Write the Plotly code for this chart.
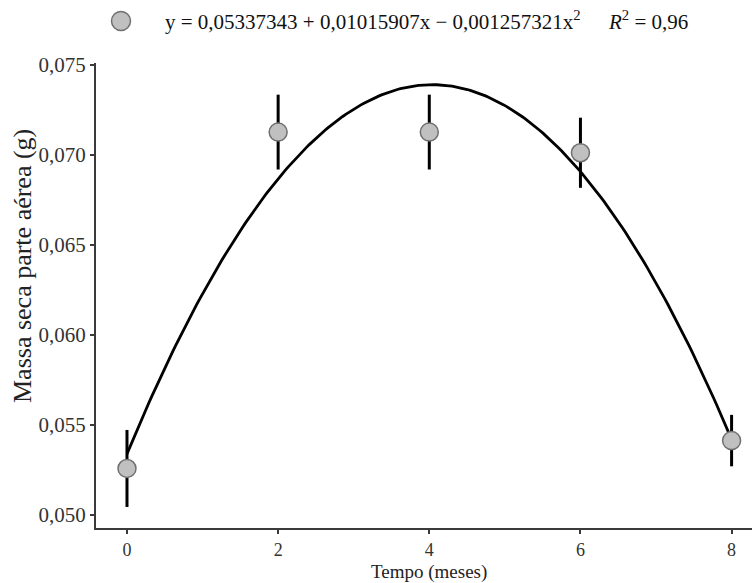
import numpy as np
import plotly.graph_objects as go

# Data
tempo = [0, 2, 4, 6, 8]
massa = [0.05256, 0.07126, 0.07126, 0.07011, 0.05411]
erro = [0.00214, 0.00208, 0.00208, 0.00195, 0.00143]
# fitted quadratic coefficients (from the equation in the chart)
coef = [0.05337343, 0.01015907, -0.001257321]
x_ticks = [0, 2, 4, 6, 8]
y_ticks = [0.050, 0.055, 0.060, 0.065, 0.070, 0.075]
y_tick_text = ["0,050", "0,055", "0,060", "0,065", "0,070", "0,075"]

xf = np.linspace(0, 8, 200)
yf = coef[0] + coef[1] * xf + coef[2] * xf ** 2

FONT = "Liberation Serif"
AXC = "#3a3a3a"
L, T, W, H = 96, 63, 656, 465


def px(xp):
    return (xp - L) / W


def py(yp):
    return (T + H - yp) / H


fig = go.Figure()
fig.add_trace(go.Scatter(
    x=xf, y=yf, mode="lines",
    line=dict(color="black", width=2.8),
    showlegend=False, hoverinfo="skip"))
fig.add_trace(go.Scatter(
    x=tempo, y=massa, mode="markers",
    error_y=dict(type="data", array=erro, visible=True, color="black",
                 thickness=3, width=0),
    marker=dict(size=18, color="#c0c0c0", line=dict(color="#707070", width=1.5)),
    showlegend=False))

fig.update_layout(
    width=752, height=583,
    margin=dict(l=L, r=0, t=T, b=583 - T - H),
    plot_bgcolor="white", paper_bgcolor="white",
    font=dict(family=FONT, size=16, color="#222222"),
    showlegend=False,
)
fig.update_xaxes(
    range=[-0.41, 8.27], tickvals=x_ticks, ticktext=[str(v) for v in x_ticks],
    showgrid=False, zeroline=False, showline=True, linecolor=AXC, linewidth=2,
    ticks="outside", ticklen=4, tickwidth=1.5, tickcolor=AXC,
    tickfont=dict(family=FONT, size=18, color="#333333"),
)
fig.update_yaxes(
    range=[0.04925, 0.0751], tickvals=y_ticks, ticktext=y_tick_text,
    showgrid=False, zeroline=False, showline=True, linecolor=AXC, linewidth=2,
    ticks="outside", ticklen=4, tickwidth=1.5, tickcolor=AXC,
    tickfont=dict(family=FONT, size=21, color="#333333"),
)

# x-axis title
fig.add_annotation(
    xref="paper", yref="paper", x=px(429), y=py(584),
    xanchor="center", yanchor="bottom", showarrow=False, borderpad=0,
    text="Tempo (meses)",
    font=dict(family=FONT, size=19, color="#222222"))

# y-axis title as rotated annotation
fig.add_annotation(
    xref="paper", yref="paper", x=px(22), y=py(266),
    xanchor="center", yanchor="middle", showarrow=False, textangle=-90,
    text="Massa seca parte aérea (g)",
    font=dict(family=FONT, size=26, color="#222222"))

# legend-like equation
yleg = py(21)
fig.add_shape(type="circle", xref="paper", yref="paper",
              xsizemode="pixel", ysizemode="pixel",
              xanchor=px(121), yanchor=yleg,
              x0=-9.5, x1=9.5, y0=-9.5, y1=9.5,
              fillcolor="#c0c0c0", line=dict(color="#707070", width=1.5))
fig.add_annotation(
    xref="paper", yref="paper", x=px(163), y=yleg,
    xanchor="left", yanchor="middle", showarrow=False,
    text="y = 0,05337343 + 0,01015907x \u2212 0,001257321x<sup>2</sup>",
    font=dict(family=FONT, size=21, color="#111111"))
fig.add_annotation(
    xref="paper", yref="paper", x=px(606), y=yleg,
    xanchor="left", yanchor="middle", showarrow=False,
    text="<i>R</i><sup>2</sup> = 0,96",
    font=dict(family=FONT, size=21, color="#111111"))

fig.write_html("out.html")
